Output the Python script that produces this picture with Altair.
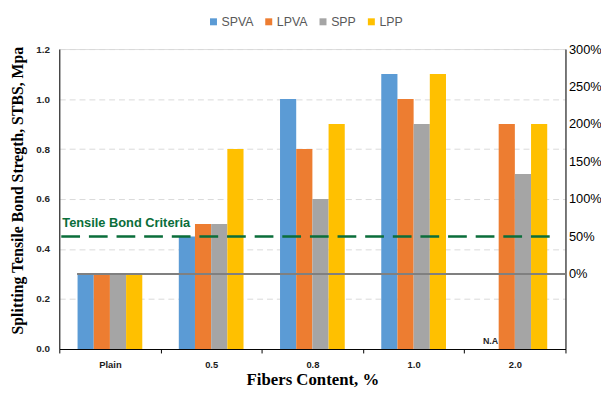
import altair as alt
import pandas as pd

categories = ["Plain", "0.5", "0.8", "1.0", "2.0"]
series = ["SPVA", "LPVA", "SPP", "LPP"]
spva = [0.3, 0.45, 1.0, 1.1, None]
lpva = [0.3, 0.5, 0.8, 1.0, 0.9]
spp = [0.3, 0.5, 0.6, 0.9, 0.7]
lpp = [0.3, 0.8, 0.9, 1.1, 0.9]
colors = ["#5B9BD5", "#ED7D31", "#A5A5A5", "#FFC000"]

left_ticks = [0.0, 0.2, 0.4, 0.6, 0.8, 1.0, 1.2]
right_ticks = [0.0, 0.5, 1.0, 1.5, 2.0, 2.5, 3.0]
baseline_pct = 0.0
criteria_pct = 0.5
criteria_label = "Tensile Bond Criteria"

rows = []
for s, vals in zip(series, [spva, lpva, spp, lpp]):
    for c, v in zip(categories, vals):
        if v is not None:
            rows.append({"cat": c, "series": s, "value": v})
df = pd.DataFrame(rows)
na_df = pd.DataFrame([{"cat": "2.0", "series": "SPVA", "value": 0.0, "label": "N.A"}])

# empty slots on both sides of each group give the gap between groups
offset_domain = ["_gapL"] + series + ["_gapR"]

x_enc = alt.X(
    "cat:N",
    sort=categories,
    scale=alt.Scale(paddingInner=0, paddingOuter=0),
    axis=alt.Axis(
        title="Fibers Content,  %",
        titleFont="Liberation Serif",
        titleFontSize=17,
        titleFontWeight="bold",
        titleColor="black",
        titleY=31,
        titleBaseline="middle",
        labelFont="Liberation Sans",
        labelFontSize=9.5,
        labelFontWeight="bold",
        labelColor="#1a1a1a",
        labelAngle=0,
        labelPadding=7,
        tickBand="extent",
        ticks=True,
        tickSize=4,
        tickColor="black",
        domainColor="black",
        grid=False,
    ),
)
xoff = alt.XOffset(
    "series:N",
    scale=alt.Scale(domain=offset_domain, paddingInner=0, paddingOuter=0.128),
)

bars = alt.Chart(df).mark_bar().encode(
    x=x_enc,
    xOffset=xoff,
    y=alt.Y(
        "value:Q",
        scale=alt.Scale(domain=[0, 1.2], nice=False, zero=True),
        axis=alt.Axis(
            values=left_ticks,
            format=".1f",
            title="Splitting Tensile Bond Stregth, STBS, Mpa",
            titleFont="Liberation Serif",
            titleFontSize=16,
            titleFontWeight="bold",
            titleColor="black",
            titleX=-42,
            titleY=143,
            titleAngle=-90,
            titleAlign="center",
            titleBaseline="middle",
            labelFont="Liberation Sans",
            labelFontSize=10,
            labelFontWeight="bold",
            labelColor="#262626",
            labelPadding=10,
            ticks=False,
            domainColor="black",
            grid=True,
            gridColor="#d9d9d9",
            gridDash=[6, 4],
            gridWidth=1,
        ),
    ),
    color=alt.Color(
        "series:N",
        sort=series,
        scale=alt.Scale(domain=series, range=colors),
        legend=alt.Legend(
            title=None,
            orient="none",
            direction="horizontal",
            legendX=150,
            legendY=-34,
            symbolType="square",
            symbolSize=50,
            symbolStrokeWidth=0,
            labelFont="Liberation Sans",
            labelFontSize=12.5,
            labelColor="#595959",
            labelOffset=2,
            columnPadding=9,
        ),
    ),
)

na_text = alt.Chart(na_df).mark_text(
    font="Liberation Sans", fontSize=9, fontWeight="bold", color="#262626",
    baseline="bottom", dy=-3,
).encode(
    x=alt.X("cat:N", sort=categories),
    xOffset=xoff,
    y=alt.Y("value:Q"),
    text="label:N",
)

left = alt.layer(bars, na_text)

pct_y = alt.Y(
    "pct:Q",
    scale=alt.Scale(domain=[-1, 3], nice=False, zero=False),
    axis=alt.Axis(
        orient="right",
        values=right_ticks,
        format=".0%",
        title=None,
        labelFont="Liberation Sans",
        labelFontSize=13,
        labelColor="black",
        labelPadding=3,
        ticks=False,
        domain=True,
        domainColor="black",
        grid=False,
    ),
)
lines_df = pd.DataFrame([
    {"kind": "base", "pct": baseline_pct},
    {"kind": "crit", "pct": criteria_pct},
])

base_rule = alt.Chart(lines_df).transform_filter(alt.datum.kind == "base").mark_rule(
    color="#808080", strokeWidth=2
).encode(
    y=pct_y,
    x=alt.value(18),
    x2=alt.value(513),
)

crit_rule = alt.Chart(lines_df).transform_filter(alt.datum.kind == "crit").mark_rule(
    color="#0A6E3A", strokeWidth=2.5, strokeDash=[19, 9]
).encode(
    y=pct_y,
    x=alt.value(2),
    x2=alt.value(506),
)

crit_text = alt.Chart(lines_df).transform_filter(alt.datum.kind == "crit").mark_text(
    text=criteria_label, font="Liberation Sans", fontSize=13, fontWeight="bold",
    color="#0A6E3A", align="left", baseline="bottom", dy=-7,
).encode(
    y=pct_y,
    x=alt.value(3),
)

right = alt.layer(base_rule, crit_rule, crit_text)

chart = alt.layer(left, right).resolve_scale(y="independent").resolve_axis(y="independent").properties(
    width=513,
    height=304,
    autosize=alt.AutoSizeParams(type="none"),
    padding={"left": 52, "top": 39, "right": 36, "bottom": 45},
).configure_view(stroke=None).configure(background="white")

chart.save("out.html", embed_options={"renderer": "svg", "actions": False})
